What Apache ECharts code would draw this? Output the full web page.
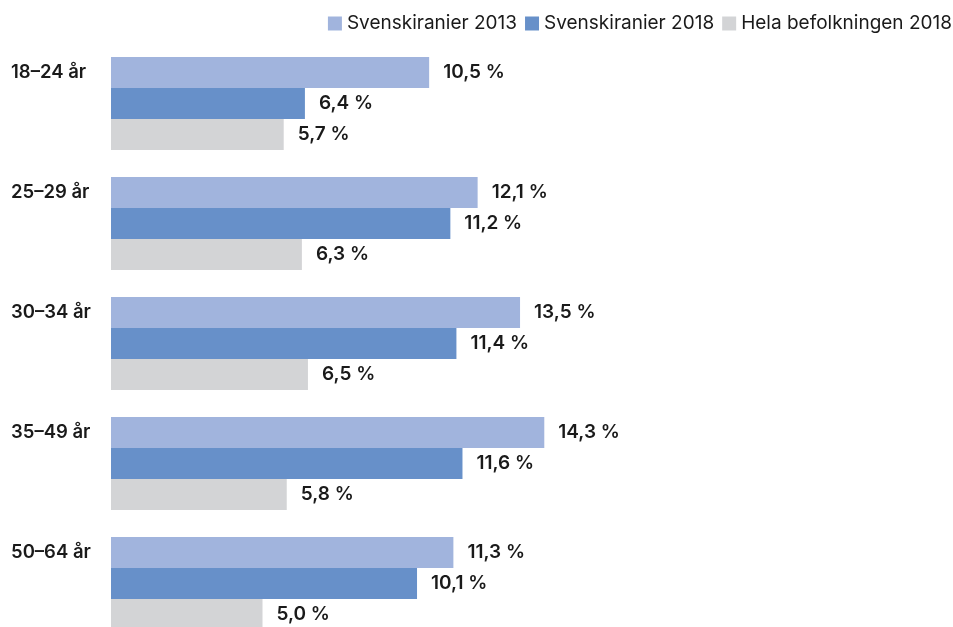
<!DOCTYPE html>
<html>
<head>
<meta charset="utf-8">
<script src="https://cdn.jsdelivr.net/npm/echarts@6/dist/echarts.min.js"></script>
<style>
  html, body { margin: 0; padding: 0; background: #fff; }
  #chart { width: 953px; height: 627px; }
</style>
</head>
<body>
<div id="chart"></div>
<script>
// Age groups and shares (%)
const categories = ['18–24 år', '25–29 år', '30–34 år', '35–49 år', '50–64 år'];
const seriesNames = ['Svenskiranier 2013', 'Svenskiranier 2018', 'Hela befolkningen 2018'];
const svenskiranier2013 = [10.5, 12.1, 13.5, 14.3, 11.3];
const svenskiranier2018 = [6.4, 11.2, 11.4, 11.6, 10.1];
const helaBefolkningen2018 = [5.7, 6.3, 6.5, 5.8, 5.0];

const colors = ['#a1b4dd', '#6790c9', '#d3d4d6'];
const FONT = 'Inter, Roboto, "Noto Sans", sans-serif';

const fmt = v => v.toFixed(1).replace('.', ',') + ' %';

function barSeries(name, data, color) {
  return {
    name: name,
    type: 'bar',
    data: data,
    barWidth: 31,
    barGap: '0%',
    clip: false,
    itemStyle: { color: color },
    label: {
      show: true,
      position: 'right',
      distance: 14,
      formatter: p => fmt(p.value),
      color: '#1a1a1a',
      fontFamily: FONT,
      fontSize: 19,
      fontWeight: 600
    },
    emphasis: { disabled: true },
    animation: false
  };
}

const chart = echarts.init(document.getElementById('chart'));
chart.setOption({
  animation: false,
  color: colors,
  legend: {
    right: -4,
    top: 9,
    itemWidth: 14,
    itemHeight: 14,
    itemGap: 8,
    icon: 'rect',
    textStyle: { fontFamily: FONT, fontSize: 19, color: '#1a1a1a' },
    data: seriesNames
  },
  // category points sit at the centre of each bar group
  grid: { left: 111, top: 103.5, width: 606, bottom: 43.5, containLabel: false },
  xAxis: {
    type: 'value',
    min: 0,
    max: 20,
    show: false
  },
  yAxis: {
    type: 'category',
    inverse: true,
    boundaryGap: false,
    data: categories,
    axisLine: { show: false },
    axisTick: { show: false },
    splitLine: { show: false },
    axisLabel: {
      align: 'left',
      margin: 100,
      formatter: v => '{c|' + v + '}',
      rich: {
        c: {
          fontFamily: FONT,
          fontSize: 18.5,
          fontWeight: 600,
          color: '#1a1a1a',
          padding: [0, 0, 62, 0]
        }
      }
    }
  },
  series: [
    barSeries(seriesNames[0], svenskiranier2013, colors[0]),
    barSeries(seriesNames[1], svenskiranier2018, colors[1]),
    barSeries(seriesNames[2], helaBefolkningen2018, colors[2])
  ]
});
</script>
</body>
</html>
